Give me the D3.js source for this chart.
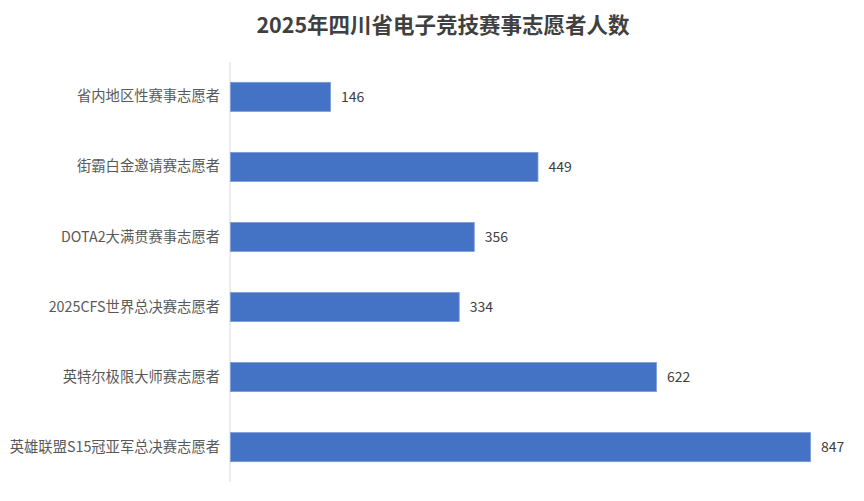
<!DOCTYPE html>
<html><head><meta charset="utf-8">
<script src="https://cdn.jsdelivr.net/npm/d3@7"></script>
<style>body{margin:0;background:#fff;}svg{display:block;font-family:"Noto Sans CJK SC","Noto Sans",sans-serif;}</style>
</head><body>
<svg id="c" width="864" height="501"></svg>
<script>
const categories = ["省内地区性赛事志愿者","街霸白金邀请赛志愿者","DOTA2大满贯赛事志愿者","2025CFS世界总决赛志愿者","英特尔极限大师赛志愿者","英雄联盟S15冠亚军总决赛志愿者"];
const values = [146, 449, 356, 334, 622, 847];
const title = "2025年四川省电子竞技赛事志愿者人数";

(function () {
const svg = d3.select("#c");
const mLeft = 230, mRight = 810, mTop = 62, mBottom = 482;
const x = d3.scaleLinear().domain([0, 847]).range([mLeft, mRight]);
const y = d3.scaleBand().domain(categories).range([mTop, mBottom]).paddingInner(0.585).paddingOuter(0.29);

svg.append("text").attr("x", 443).attr("y", 33).attr("text-anchor", "middle")
  .attr("font-size", 21.5).attr("font-weight", "bold").attr("fill", "#404040").text(title);

svg.append("line").attr("x1", mLeft).attr("x2", mLeft).attr("y1", mTop).attr("y2", mBottom)
  .attr("stroke", "#d9d9d9").attr("stroke-width", 1);

const data = categories.map((c, i) => ({c, v: values[i]}));
svg.selectAll("rect.bar").data(data).join("rect").attr("class", "bar")
  .attr("x", x(0) + 0.5).attr("y", d => y(d.c)).attr("width", d => x(d.v) - x(0))
  .attr("height", y.bandwidth()).attr("fill", "#4472c4").attr("stroke", "#7a9bd8").attr("stroke-width", 0.8);

svg.selectAll("text.val").data(data).join("text").attr("class", "val")
  .attr("x", d => x(d.v) + 11).attr("y", d => y(d.c) + y.bandwidth() / 2)
  .attr("dy", "0.35em").attr("font-size", 14).attr("fill", "#404040").text(d => d.v);

const yAxis = d3.axisLeft(y).tickSize(0).tickPadding(10);
const g = svg.append("g").attr("transform", `translate(${mLeft},0)`).call(yAxis);
g.select(".domain").remove();
g.selectAll("text").attr("font-size", 14.3).attr("fill", "#595959")
  .attr("font-family", '"Noto Sans CJK SC","Noto Sans",sans-serif');
})();
</script>
</body></html>
